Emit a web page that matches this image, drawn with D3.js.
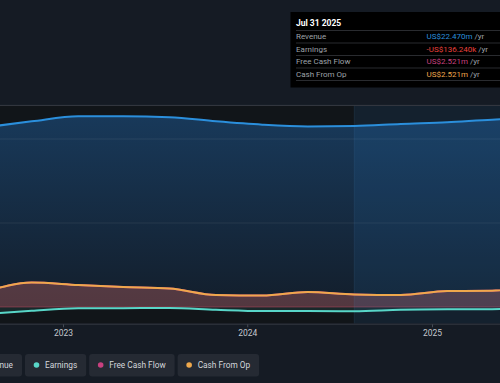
<!DOCTYPE html>
<html><head><meta charset="utf-8">
<script src="https://cdn.jsdelivr.net/npm/d3@7"></script>
<style>
html,body{margin:0;padding:0;background:#151b24;overflow:hidden;}
svg{display:block;font-family:Roboto,"Open Sans",sans-serif;}
</style></head>
<body>
<svg id="chart" width="500" height="383"></svg>
<script>
// ---- data ----
const dates = ["2022-07-31","2022-10-31","2023-01-31","2023-04-30","2023-07-31","2023-10-31","2024-01-31","2024-04-30","2024-07-31","2024-10-31","2025-01-31","2025-04-30","2025-07-31"];
const revenue = [21.4,22.1,22.7,22.7,22.6,22.1,21.7,21.5,21.55,21.8,22.0,22.3,22.47];
const earnings = [-0.83,-0.44,-0.15,-0.14,-0.12,-0.33,-0.48,-0.48,-0.51,-0.33,-0.27,-0.26,-0.136];
const freeCashFlow = [1.8,2.92,2.62,2.38,2.2,1.43,1.37,1.79,1.49,1.43,1.9,1.94,2.521];
const cashFromOp = [1.8,2.92,2.62,2.38,2.2,1.43,1.37,1.79,1.49,1.43,1.9,1.94,2.521];
const xTicks = ["2023-01-01","2024-01-01","2025-01-01"];
const yGrid = [0,10,20];
const legendNames = ["Revenue","Earnings","Free Cash Flow","Cash From Op"];
const seriesColors = ["#2b8fdc","#58d6c8","#c8407f","#eea84c"];
const tooltipTitle = "Jul 31 2025";
const tooltipLabels = ["Revenue","Earnings","Free Cash Flow","Cash From Op"];
const tooltipValues = ["US$22.470m","-US$136.240k","US$2.521m","US$2.521m"];
const tooltipColors = ["#2b8fdc","#e8413c","#c8407f","#eea84c"];
const highlightStart = "2024-07-31";

const parse = d3.timeParse("%Y-%m-%d");
const W = 500, H = 383;
const plotTop = 105.4, plotBottom = 323.8;
const svg = d3.select("#chart");

const x = d3.scaleTime().domain([parse("2023-01-01"), parse("2025-01-01")]).range([63, 432]);
const y = d3.scaleLinear().domain([-2, 24]).range([plotBottom, plotTop]);

const pts = arr => arr.map((v,i)=>({d:parse(dates[i]), v}));

const defs = svg.append("defs");
const cp = defs.append("clipPath").attr("id","plot");
cp.append("rect").attr("x",0).attr("y",plotTop).attr("width",W).attr("height",plotBottom-plotTop);

const g1 = defs.append("linearGradient").attr("id","revGrad").attr("x1",0).attr("x2",0).attr("y1",0).attr("y2",1);
g1.append("stop").attr("offset","0%").attr("stop-color","#18395a");
g1.append("stop").attr("offset","100%").attr("stop-color","#131e2b");

// plot background
const plot = svg.append("g").attr("clip-path","url(#plot)");
plot.append("rect").attr("x",0).attr("y",plotTop).attr("width",W).attr("height",plotBottom-plotTop).attr("fill","#111519");

const curve = d3.curveMonotoneX;
const area = arr => d3.area().x(d=>x(d.d)).y0(y(0)).y1(d=>y(d.v)).curve(curve)(pts(arr));
const line = arr => d3.line().x(d=>x(d.d)).y(d=>y(d.v)).curve(curve)(pts(arr));

plot.append("path").attr("d", area(revenue)).attr("fill","url(#revGrad)");
plot.append("path").attr("d", area(freeCashFlow)).attr("fill","#c8407f").attr("fill-opacity",0.22);
plot.append("path").attr("d", area(cashFromOp)).attr("fill","#eea84c").attr("fill-opacity",0.14);
plot.append("path").attr("d", area(earnings)).attr("fill","#58d6c8").attr("fill-opacity",0.1);

// gridlines
plot.selectAll(".grid").data(yGrid).join("line")
  .attr("x1",0).attr("x2",W).attr("y1",d=>y(d)).attr("y2",d=>y(d))
  .attr("stroke",(d)=> d===0 ? "rgba(200,70,100,0.45)" : "rgba(255,255,255,0.07)").attr("stroke-width",1);

// highlight region
const hx = x(parse(highlightStart));
plot.append("rect").attr("x",hx).attr("y",plotTop).attr("width",W-hx).attr("height",plotBottom-plotTop)
  .attr("fill","rgb(50,140,220)").attr("fill-opacity",0.11);
plot.append("line").attr("x1",hx).attr("x2",hx).attr("y1",plotTop).attr("y2",plotBottom)
  .attr("stroke","rgba(90,150,200,0.12)");

// lines
plot.append("path").attr("d", line(freeCashFlow)).attr("fill","none").attr("stroke","#c8407f").attr("stroke-width",2);
plot.append("path").attr("d", line(cashFromOp)).attr("fill","none").attr("stroke","#eea84c").attr("stroke-width",2);
plot.append("path").attr("d", line(earnings)).attr("fill","none").attr("stroke","#58d6c8").attr("stroke-width",2);
plot.append("path").attr("d", line(revenue)).attr("fill","none").attr("stroke","#2b8fdc").attr("stroke-width",2);

// top border & axis
svg.append("line").attr("x1",0).attr("x2",W).attr("y1",plotTop).attr("y2",plotTop).attr("stroke","#363b43").attr("stroke-width",1);
svg.append("line").attr("x1",0).attr("x2",W).attr("y1",plotBottom+0.5).attr("y2",plotBottom+0.5).attr("stroke","#2a2f38").attr("stroke-width",1.5);

const xAxis = d3.axisBottom(x).tickValues(xTicks.map(parse)).tickFormat(d3.timeFormat("%Y")).tickSize(3).tickPadding(3);
const ax = svg.append("g").attr("transform",`translate(0,${plotBottom+0.5})`).call(xAxis);
ax.select(".domain").remove();
ax.selectAll(".tick line").attr("stroke","#454b55");
ax.selectAll(".tick text").attr("fill","#c4c8ce").attr("font-size","8.5px").attr("font-family","Roboto,sans-serif");

// tooltip
const tt = svg.append("g");
tt.append("rect").attr("x",290.5).attr("y",12).attr("width",220).attr("height",75.5).attr("fill","#000000");
tt.append("text").attr("x",296).attr("y",26).attr("fill","#ffffff").attr("font-size","8.5px").attr("font-weight","bold").text(tooltipTitle);
const rowY = [36,48.5,61,73.5];
const sepY = [30.5,43,55.5,68,80.5];
tt.selectAll(".sep").data(sepY).join("line").attr("x1",296).attr("x2",510).attr("y1",d=>d).attr("y2",d=>d).attr("stroke","#33363b").attr("stroke-width",0.8);
tooltipLabels.forEach((lab,i)=>{
  tt.append("text").attr("x",296).attr("y",rowY[i]+3).attr("fill","#9ea2a8").attr("font-size","8px").text(lab);
  const t = tt.append("text").attr("x",426.5).attr("y",rowY[i]+3).attr("font-size","8px");
  t.append("tspan").attr("fill",tooltipColors[i]).text(tooltipValues[i]);
  t.append("tspan").attr("fill","#9ea2a8").text(" /yr");
});

// legend
const lg = svg.append("g");
const meas = legendNames.map(n=>{
  const t = lg.append("text").attr("font-size","8.3px").text(n);
  const w = t.node().getComputedTextLength(); t.remove(); return w;
});
const pillW = meas.map(w=>20+w+9);
let cx = 25 - 3 - pillW[0];
legendNames.forEach((n,i)=>{
  const gi = lg.append("g").attr("transform",`translate(${cx},354)`);
  gi.append("rect").attr("width",pillW[i]).attr("height",22.5).attr("rx",3).attr("fill","#252a33");
  gi.append("circle").attr("cx",11.5).attr("cy",11).attr("r",2.8).attr("fill",seriesColors[i]);
  gi.append("text").attr("x",20).attr("y",14).attr("font-size","8.3px").attr("fill","#d4d7dc").text(n);
  cx += pillW[i] + 3;
});
</script>
</body></html>
